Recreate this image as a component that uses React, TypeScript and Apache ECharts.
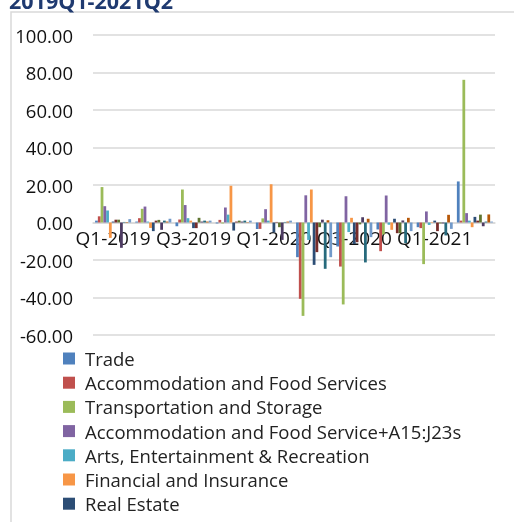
import React, { useEffect, useRef } from "react";
import * as echarts from "echarts";

const quarters = ["Q1-2019", "Q2-2019", "Q3-2019", "Q4-2019", "Q1-2020", "Q2-2020", "Q3-2020", "Q4-2020", "Q1-2021", "Q2-2021"];

const seriesNames = [
  "Trade",
  "Accommodation and Food Services",
  "Transportation and Storage",
  "Accommodation and Food Service+A15:J23s",
  "Arts, Entertainment & Recreation",
  "Financial and Insurance",
  "Real Estate",
  "Series 8",
  "Series 9",
  "Series 10",
  "Series 11",
  "Series 12",
  "Series 13",
];

const trade = [1.0, 0.5, -2.0, -0.5, -3.4, -18.5, -12.8, -3.7, -2.5, 21.9];
const accommodation = [3.3, 2.3, 1.6, 1.4, -3.4, -40.7, -23.5, -15.3, -3.0, 1.0];
const transportation = [18.9, 7.3, 17.6, -0.5, 2.2, -49.8, -43.7, -6.4, -22.2, 76.1];
const accommodationA15 = [8.7, 8.5, 9.3, 8.0, 7.1, 14.5, 14.0, 14.4, 5.9, 5.0];
const arts = [6.4, 0.5, 2.3, 4.2, 1.0, -9.3, -5.1, -1.2, -1.3, 1.0];
const financial = [-8.2, -2.9, 1.0, 19.6, 20.4, 17.6, 2.5, -3.9, 0.3, -2.5];
const realEstate = [0.5, -4.6, -3.0, -4.3, -5.3, -22.6, -11.5, 2.0, 1.0, 3.0];
const series8 = [1.5, 1.0, -3.0, 0.5, 0.3, -15.8, -10.5, -5.7, -4.6, 1.0];
const series9 = [1.5, 1.4, 2.5, 1.0, -2.5, -2.5, -1.0, -5.7, -0.5, 4.2];
const series10 = [-13.5, -3.9, 0.5, 0.5, -9.3, 1.5, 2.8, 1.1, -0.5, -2.0];
const series11 = [0.3, 1.0, 1.0, 1.0, 0.3, -24.7, -21.3, -11.0, -6.9, 0.5];
const series12 = [0.3, 0.5, 0.5, 0.2, 0.5, 1.2, 2.0, 2.5, 4.1, 4.3];
const series13 = [1.8, 2.0, 1.0, 1.0, 1.0, -18.5, -7.8, -4.6, -3.4, 0.5];

const allValues = [trade, accommodation, transportation, accommodationA15, arts, financial, realEstate, series8, series9, series10, series11, series12, series13];

const colors = ["#4F81BD", "#C0504D", "#9BBB59", "#8064A2", "#4BACC6", "#F79646", "#2C4D75", "#772C2A", "#5F7530", "#4D3B62", "#276A7C", "#B65708", "#729ACA"];

const FONT = "Open Sans";

export default function App() {
  const ref = useRef<HTMLDivElement>(null);
  useEffect(() => {
    if (!ref.current) return;
    const chart = echarts.init(ref.current, null, { renderer: "svg" });
    chart.setOption({
      animation: false,
      color: colors,
      textStyle: { fontFamily: FONT },
      graphic: [
        {
          type: "rect",
          shape: { x: 11, y: 12, width: 700, height: 700 },
          style: { fill: "none", stroke: "#D9D9D9", lineWidth: 1.5 },
          silent: true,
        },
        {
          type: "text",
          x: 9,
          y: 0,
          style: {
            text: "2019Q1-2021Q2",
            font: `bold 21.5px "${FONT}"`,
            fill: "#1F3A70",
            verticalAlign: "middle",
            align: "left",
          },
        },
      ],
      legend: {
        data: seriesNames.slice(0, 7),
        orient: "vertical",
        left: 63,
        top: 349,
        padding: 0,
        itemWidth: 12,
        itemHeight: 12,
        itemGap: 5.2,
        icon: "rect",
        textStyle: { fontFamily: FONT, fontSize: 18.5, color: "#222", lineHeight: 18.5, padding: [0, 0, 0, 5] },
      },
      grid: { left: 93, right: 19, top: 35, height: 300, containLabel: false },
      xAxis: {
        type: "category",
        data: quarters,
        position: "bottom",
        offset: -112.5,
        axisLine: { onZero: false, lineStyle: { color: "#D9D9D9", width: 1.5 } },
        axisTick: { show: false },
        axisLabel: { interval: 1, fontFamily: FONT, fontSize: 19, color: "#111", margin: 6 },
      },
      yAxis: {
        type: "value",
        min: -60,
        max: 100,
        interval: 20,
        axisLine: { show: false },
        axisTick: { show: false },
        splitLine: { lineStyle: { color: "#D9D9D9", width: 1.5 } },
        axisLabel: { formatter: (v: number) => v.toFixed(2), fontFamily: FONT, fontSize: 18.5, color: "#111", margin: 20 },
      },
      series: allValues.map((vals, i) => ({
        name: seriesNames[i],
        type: "bar",
        data: vals,
        barGap: "0%",
        barCategoryGap: "10.34%",
        itemStyle: { color: colors[i] },
      })),
    });
    return () => chart.dispose();
  }, []);
  return <div ref={ref} style={{ position: "fixed", left: 0, top: 0, width: 514, height: 522 }} />;
}
